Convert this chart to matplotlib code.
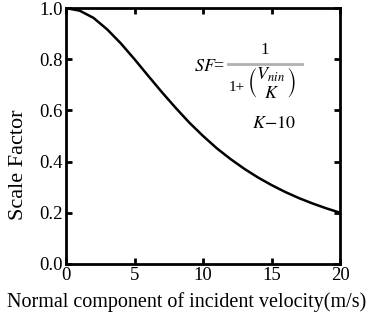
# Scale factor against normal component of incident velocity
import matplotlib.pyplot as plt

plt.rcParams["font.family"] = ["Liberation Serif", "DejaVu Serif"]
plt.rcParams["mathtext.fontset"] = "stix"

velocity = [0, 1, 2, 3, 4, 5, 6, 7, 8, 9, 10, 11, 12, 13, 14, 15, 16, 17, 18, 19, 20]
scale_factor = [1.0, 0.99, 0.962, 0.917, 0.862, 0.80, 0.735, 0.671, 0.61, 0.552, 0.50,
                0.452, 0.41, 0.372, 0.338, 0.308, 0.281, 0.257, 0.236, 0.217, 0.20]
x_ticks = [0, 5, 10, 15, 20]
y_ticks = [0.0, 0.2, 0.4, 0.6, 0.8, 1.0]

fig = plt.figure(figsize = (3.73, 3.25), dpi = 100)
ax = fig.add_axes([0.177, 0.188, 0.735, 0.787])

ax.plot(velocity, scale_factor, color = "black", linewidth = 1.8)

ax.set_xlim(0, 20)
ax.set_ylim(0, 1.0)
ax.set_xticks(x_ticks)
ax.set_yticks(y_ticks)
ax.set_xticklabels([str(t) for t in x_ticks])
ax.set_yticklabels([f"{t:.1f}" for t in y_ticks])
ax.tick_params(direction = "in", length = 4.5, width = 2, labelsize = 13.5,
               top = True, right = True)
ax.tick_params(axis = "x", pad = 2.5)
ax.tick_params(axis = "y", pad = 2.5)
for s in ax.spines.values():
    s.set_linewidth(2)

ax.set_xlabel("Normal component of incident velocity(m/s)", fontsize = 14.5)
ax.xaxis.set_label_coords(0.44, -0.11)
ax.set_ylabel("Scale Factor", fontsize = 16)
ax.yaxis.set_label_coords(-0.14, 0.387)

# equation annotation
ax.text(9.3, 0.77, r"$SF$=", fontsize = 13, ha = "left", va = "center")
ax.plot([11.8, 17.2], [0.78, 0.78], color = "#b0b0b0", linewidth = 2)
ax.text(14.5, 0.838, "1", fontsize = 12, ha = "center", va = "center")
ax.text(11.9, 0.69, "1+", fontsize = 11, ha = "left", va = "center")
ax.text(15.0, 0.71, r"$\left(\genfrac{}{}{0}{0}{V_{nin}}{K}\right)$", fontsize = 13,
        ha = "center", va = "center", color = "black")
ax.text(15.2, 0.547, r"$K$$-$$10$", fontsize = 13, ha = "center", va = "center",
        style = "italic")

fig.savefig("out.png", dpi = 100)
